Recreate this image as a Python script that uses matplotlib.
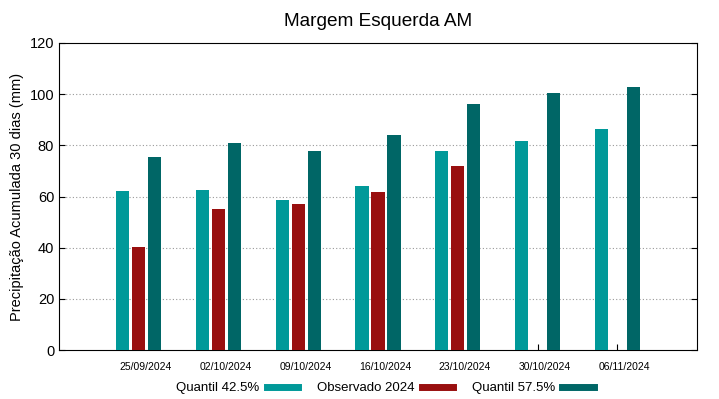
import numpy as np
import matplotlib.pyplot as plt
import matplotlib.transforms as mtransforms
from matplotlib.lines import Line2D

plt.rcParams['font.family'] = ['Liberation Sans', 'DejaVu Sans']

datas = ["25/09/2024", "02/10/2024", "09/10/2024", "16/10/2024",
         "23/10/2024", "30/10/2024", "06/11/2024"]
q425 = [62.3, 62.5, 58.5, 64.1, 77.8, 81.6, 86.3]
obs2024 = [40.4, 55.1, 57.0, 61.6, 71.9, np.nan, np.nan]
q575 = [75.3, 80.9, 77.8, 84.0, 96.0, 100.3, 102.9]

cor_q425 = "#009999"
cor_obs = "#990f0f"
cor_q575 = "#006666"

fig = plt.figure(figsize=(7.19, 3.99), dpi=100)
ax = fig.add_axes([59/719, 49/399, 638/719, 307/399])

x = np.arange(len(datas))
w = 0.165
ax.bar(x - 0.2, q425, w, color=cor_q425, zorder=3)
ax.bar(x, obs2024, w, color=cor_obs, zorder=3)
ax.bar(x + 0.2, q575, w, color=cor_q575, zorder=3)

ax.set_xlim(-1, 7)
ax.set_ylim(0, 120)
ax.set_yticks(range(0, 121, 20))
ax.set_xticks(x)
ax.set_xticklabels(datas, fontsize=7.5)
ax.tick_params(axis='x', direction='in', length=4, pad=9)
ax.tick_params(axis='y', direction='in', length=4, labelsize=10.5, right=True)
# rotulos das datas deslocados um pouco para a direita (estilo gnuplot)
offset = mtransforms.ScaledTranslation(7/100, 0, fig.dpi_scale_trans)
for lab in ax.get_xticklabels():
    lab.set_transform(lab.get_transform() + offset)

for yv in range(20, 120, 20):
    ax.axhline(yv, color='#999999', lw=0.8, ls=(0, (1, 2)), zorder=1)

ax.set_ylabel("Precipitação Acumulada 30 dias (mm)", fontsize=10.5)
ax.set_title("Margem Esquerda AM", fontsize=13.7, pad=12)

handles = [Line2D([0], [0], color=cor_q425, lw=5),
           Line2D([0], [0], color=cor_obs, lw=5),
           Line2D([0], [0], color=cor_q575, lw=5)]
fig.legend(handles, ["Quantil 42.5%", "Observado 2024", "Quantil 57.5%"],
           loc='center', bbox_to_anchor=(385/719, 1 - 388/399), ncol=3,
           frameon=False, markerfirst=False, handlelength=2.4,
           columnspacing=1.4, handletextpad=0.55, fontsize=9.5)

fig.savefig("out.png", dpi=100)
